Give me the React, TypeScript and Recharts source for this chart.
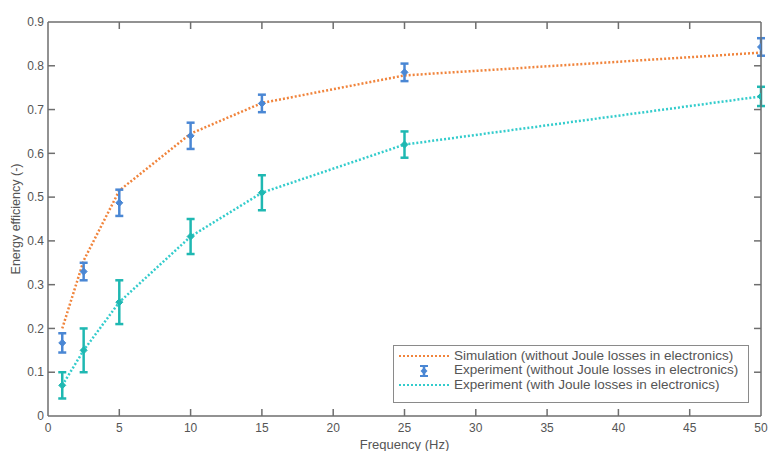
import React from 'react';
import { ComposedChart, Line, Scatter, XAxis, YAxis, ErrorBar, ReferenceLine } from 'recharts';

const frequencies = [1, 2.5, 5, 10, 15, 25, 50];
const simulation = [0.2, 0.355, 0.515, 0.645, 0.715, 0.778, 0.83];
const expNoJoule = [0.167, 0.33, 0.487, 0.64, 0.714, 0.785, 0.843];
const expNoJouleErr = [0.022, 0.02, 0.03, 0.03, 0.02, 0.02, 0.02];
const expJoule = [0.07, 0.15, 0.26, 0.41, 0.51, 0.62, 0.73];
const expJouleErr = [0.03, 0.05, 0.05, 0.04, 0.04, 0.03, 0.022];

const xTicks = [0, 5, 10, 15, 20, 25, 30, 35, 40, 45, 50];
const yTicks = [0, 0.1, 0.2, 0.3, 0.4, 0.5, 0.6, 0.7, 0.8, 0.9];

const legendLabels = [
  'Simulation (without Joule losses in electronics)',
  'Experiment (without Joule losses in electronics)',
  'Experiment (with Joule losses in electronics)',
];

const data = frequencies.map((f, i) => ({
  f,
  sim: simulation[i],
  a: expNoJoule[i],
  aErr: expNoJouleErr[i],
  b: expJoule[i],
  bErr: expJouleErr[i],
}));

const X_MIN = 0;
const X_MAX = 50;
const Y_MIN = 0;
const Y_MAX = 0.9;

const ORANGE = '#f0843c';
const BLUE = '#4a87d4';
const CYAN_LINE = '#33cccc';
const CYAN = '#1fb8b2';
const AXIS = '#6e6e6e';
const TEXT = '#555';
const FONT = 'Arial, "Liberation Sans", sans-serif';

// inward tick length expressed as a fraction of each axis span (~7px)
const X_TICK_LEN = (X_MAX - X_MIN) * 0.0098;
const Y_TICK_LEN = (Y_MAX - Y_MIN) * 0.0178;

const tickStyle = { fill: TEXT, fontSize: 12, fontFamily: FONT };
const axisLineStyle = { stroke: AXIS, strokeWidth: 1.5 };

const Diamond = (color: string) => (props: any) => {
  const { cx, cy } = props;
  if (cx == null || cy == null) return null;
  const r = 3.5;
  return (
    <polygon
      points={`${cx},${cy - r} ${cx + r},${cy} ${cx},${cy + r} ${cx - r},${cy}`}
      fill={color}
      stroke={color}
    />
  );
};

const LegendBox = () => (
  <div
    style={{
      position: 'absolute',
      left: 393,
      top: 345,
      border: '1px solid #8a8a8a',
      background: '#fff',
      boxSizing: 'border-box',
      width: 356,
      height: 58,
      padding: '3px 0 0 4px',
      fontFamily: FONT,
      fontSize: 13.5,
      color: TEXT,
    }}
  >
    {legendLabels.map((label, i) => (
      <div key={i} style={{ display: 'flex', alignItems: 'center', height: 14.4, lineHeight: '14.4px' }}>
        <svg width={56} height={14} style={{ flex: 'none' }}>
          {i === 1 ? (
            <g>
              <line x1={26} x2={26} y1={2} y2={12} stroke={BLUE} strokeWidth={2.5} />
              <line x1={22} x2={30} y1={2} y2={2} stroke={BLUE} strokeWidth={2} />
              <line x1={22} x2={30} y1={12} y2={12} stroke={BLUE} strokeWidth={2} />
              <polygon points="26,3.5 29.5,7 26,10.5 22.5,7" fill={BLUE} />
            </g>
          ) : (
            <line
              x1={1}
              x2={52}
              y1={7}
              y2={7}
              stroke={i === 0 ? ORANGE : CYAN_LINE}
              strokeWidth={2}
              strokeDasharray="2 2"
            />
          )}
        </svg>
        <span style={{ whiteSpace: 'nowrap' }}>{label}</span>
      </div>
    ))}
  </div>
);

export default function App() {
  const innerX = xTicks.slice(1, -1);
  const innerY = yTicks.slice(1, -1);
  return (
    <div style={{ position: 'absolute', left: 0, top: 0, width: 769, height: 451, background: '#fff' }}>
      <ComposedChart width={769} height={451} data={data} margin={{ top: 21, right: 7, bottom: 0, left: 0 }}>
        <XAxis
          dataKey="f"
          type="number"
          domain={[X_MIN, X_MAX]}
          ticks={xTicks}
          allowDataOverflow
          height={35}
          tickSize={0}
          tickMargin={7}
          tickLine={false}
          axisLine={axisLineStyle}
          tick={tickStyle}
          label={{
            value: 'Frequency (Hz)',
            position: 'insideBottom',
            offset: 2,
            fill: TEXT,
            fontSize: 13,
            fontFamily: FONT,
          }}
        />
        <XAxis
          xAxisId="top"
          dataKey="f"
          orientation="top"
          type="number"
          domain={[X_MIN, X_MAX]}
          ticks={xTicks}
          allowDataOverflow
          height={1}
          tickLine={false}
          axisLine={axisLineStyle}
          tick={false}
        />
        <YAxis
          type="number"
          domain={[Y_MIN, Y_MAX]}
          ticks={yTicks}
          allowDataOverflow
          width={48}
          tickSize={0}
          tickMargin={4}
          tickLine={false}
          axisLine={axisLineStyle}
          tick={tickStyle}
          label={{
            value: 'Energy efficiency (-)',
            angle: -90,
            position: 'insideLeft',
            offset: 16,
            fill: TEXT,
            fontSize: 12.5,
            fontFamily: FONT,
            style: { textAnchor: 'middle' },
          }}
        />
        <YAxis
          yAxisId="right"
          orientation="right"
          type="number"
          domain={[Y_MIN, Y_MAX]}
          ticks={yTicks}
          allowDataOverflow
          width={1}
          tickLine={false}
          axisLine={axisLineStyle}
          tick={false}
        />
        {innerX.map((t) => (
          <ReferenceLine
            key={`xb-${t}`}
            segment={[{ x: t, y: Y_MIN }, { x: t, y: Y_MIN + Y_TICK_LEN }]}
            stroke={AXIS}
            strokeWidth={1.5}
          />
        ))}
        {innerX.map((t) => (
          <ReferenceLine
            key={`xt-${t}`}
            segment={[{ x: t, y: Y_MAX }, { x: t, y: Y_MAX - Y_TICK_LEN }]}
            stroke={AXIS}
            strokeWidth={1.5}
          />
        ))}
        {innerY.map((t) => (
          <ReferenceLine
            key={`yl-${t}`}
            segment={[{ x: X_MIN, y: t }, { x: X_MIN + X_TICK_LEN, y: t }]}
            stroke={AXIS}
            strokeWidth={1.5}
          />
        ))}
        {innerY.map((t) => (
          <ReferenceLine
            key={`yr-${t}`}
            segment={[{ x: X_MAX, y: t }, { x: X_MAX - X_TICK_LEN, y: t }]}
            stroke={AXIS}
            strokeWidth={1.5}
          />
        ))}
        <Line
          xAxisId="top"
          yAxisId="right"
          type="linear"
          dataKey="sim"
          stroke="none"
          dot={false}
          activeDot={false}
          legendType="none"
          isAnimationActive={false}
        />
        <Line
          type="linear"
          dataKey="sim"
          stroke={ORANGE}
          strokeWidth={2.5}
          strokeDasharray="2 2"
          dot={false}
          activeDot={false}
          isAnimationActive={false}
        />
        <Line
          type="linear"
          dataKey="b"
          stroke={CYAN_LINE}
          strokeWidth={2.5}
          strokeDasharray="2 2"
          dot={Diamond(CYAN)}
          activeDot={false}
          isAnimationActive={false}
        >
          <ErrorBar dataKey="bErr" direction="y" width={4} stroke={CYAN} strokeWidth={2.5} />
        </Line>
        <Scatter data={data} dataKey="a" fill={BLUE} shape={Diamond(BLUE)} isAnimationActive={false}>
          <ErrorBar dataKey="aErr" direction="y" width={4} stroke={BLUE} strokeWidth={2.5} />
        </Scatter>
      </ComposedChart>
      <LegendBox />
    </div>
  );
}
